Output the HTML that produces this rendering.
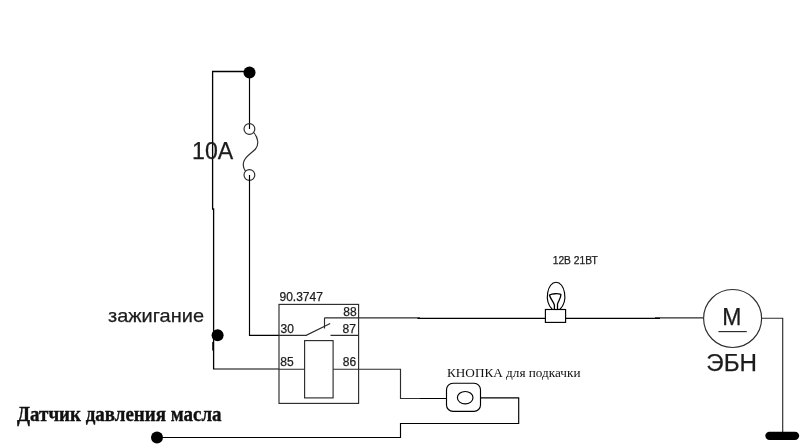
<!DOCTYPE html>
<html lang="ru">
<head>
<meta charset="utf-8">
<title>Схема подключения ЭБН</title>
<style>
html,body{margin:0;padding:0;background:#fff;}
body{width:800px;height:444px;overflow:hidden;}
svg{display:block;will-change:transform;}
.b{stroke:#000;stroke-width:1.15;fill:none;}
.k{stroke:#000;stroke-width:1.3;fill:none;}
.g{stroke:#2c2c2c;stroke-width:1.15;fill:none;}
.sans{font-family:"Liberation Sans",sans-serif;fill:#1c1c1c;stroke:#1c1c1c;stroke-width:0.25;}
.serif{font-family:"Liberation Serif",serif;fill:#111;}
</style>
</head>
<body>
<svg width="800" height="444" viewBox="0 0 800 444">
<rect width="800" height="444" fill="#fff"/>

<!-- left supply wire -->
<path class="k" d="M249.500 71.500H212.600V209H213.600V369"/>
<path class="b" d="M212.800 342V350.500"/>
<path class="b" d="M213 369H279"/>
<circle cx="249.500" cy="72.500" r="6" fill="#000"/>
<circle cx="217.600" cy="335.200" r="6" fill="#000"/>

<!-- fuse -->
<path class="b" d="M249.500 72V129"/>
<circle class="g" cx="249.400" cy="129" r="5.400"/>
<circle class="g" cx="249.400" cy="175" r="5.400"/>
<path class="g" d="M253.800 132.500C258.500 138 259 145 255.500 149C252.500 152.500 246 156 244 161C242.500 165 243.500 168.500 245.500 171.200"/>
<path class="b" d="M249.500 175V335.300H279"/>

<!-- relay -->
<rect class="g" x="279" y="304.400" width="79.600" height="99"/>
<rect class="g" x="304.600" y="340.600" width="28.500" height="57.300"/>
<path class="g" d="M279 335.300H306.200L330.200 323.400M324.500 317.800V328.500M324.500 317.800H358.600M330.500 335.300H358.600M279 369.200H304.600M333.100 369.200H358.600"/>
<text class="sans" x="279.500" y="300.600" font-size="12">90.3747</text>
<text class="sans" x="343.300" y="315.500" font-size="12">88</text>
<text class="sans" x="342.500" y="332.500" font-size="12">87</text>
<text class="sans" x="280.600" y="332.500" font-size="12">30</text>
<text class="sans" x="280.300" y="366.200" font-size="12">85</text>
<text class="sans" x="342.800" y="366.200" font-size="12">86</text>

<!-- button loop -->
<path class="g" d="M358.600 369.200H400.500V398.500H420"/>
<path class="b" d="M420 398.500H446.500M480.500 397.800H518.700V423.500H400.500V437.500H157"/>
<rect class="b" x="446.500" y="383.200" width="34" height="28.200" rx="6.500"/>
<ellipse class="b" cx="465.200" cy="397.700" rx="7.800" ry="6.200"/>
<circle cx="157" cy="437.500" r="6" fill="#000"/>

<!-- lamp line -->
<path class="g" d="M358.600 317.800H420M655 317.800H703.500"/>
<path class="b" d="M417.500 318.400H545.400M565.600 318.400H660"/>
<rect class="b" x="545.400" y="309.500" width="20.200" height="12.900"/>
<path class="b" d="M552.400 309.500C543.500 301 547.500 282.200 556.100 282.200C564.700 282.200 568.700 301 559.800 309.500"/>
<path class="k" stroke-width="1.5" stroke-linejoin="round" d="M554.400 309.200V305.200C553.600 301.800 550.400 299.200 549.500 295C552.300 293.500 557.800 293.400 560.900 294.300C561 298.400 558.300 300.800 557.500 304.200V309.200"/>

<!-- motor -->
<circle class="g" cx="732.600" cy="318.500" r="29"/>
<path class="g" d="M718.400 331.600H746.800"/>
<path class="g" d="M761.600 318.200H782.700V432"/>
<rect x="765.300" y="431.700" width="33.900" height="8.300" rx="4.150" fill="#000"/>

<!-- text -->
<g>
<text class="sans" x="192" y="158.700" font-size="24" textLength="41.200" lengthAdjust="spacingAndGlyphs">10А</text>
<text class="sans" x="108" y="322" font-size="19" textLength="96" lengthAdjust="spacingAndGlyphs">зажигание</text>
<text class="serif" transform="translate(17 421.4) scale(1 1.07)" font-size="19" font-weight="bold" stroke="#111" stroke-width="0.35">Датчик давления масла</text>
<text class="serif" x="447" y="376.600" font-size="13" textLength="133.500" lengthAdjust="spacingAndGlyphs">КНОПКА для подкачки</text>
<text class="sans" x="552.700" y="264" font-size="10.300" textLength="45" lengthAdjust="spacingAndGlyphs">12В 21ВТ</text>
<text class="sans" x="722.200" y="324.700" font-size="23">М</text>
<text class="sans" x="706.300" y="370.800" font-size="24.200">ЭБН</text>
</g>
</svg>
</body>
</html>
